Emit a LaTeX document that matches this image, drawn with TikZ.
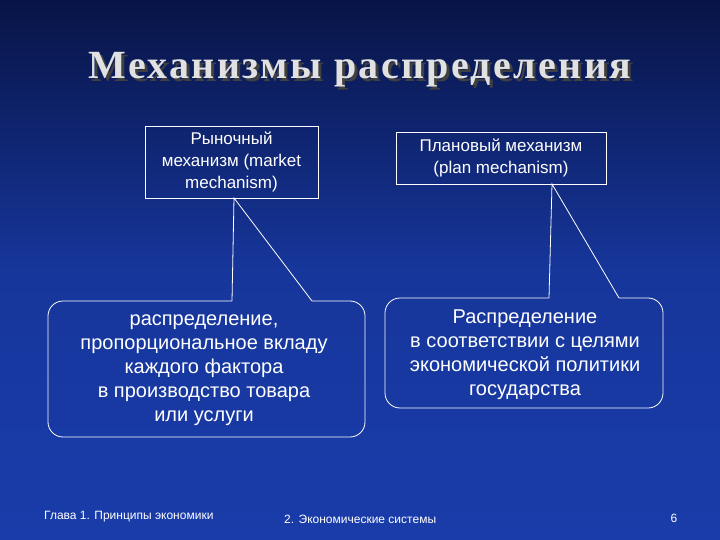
\documentclass[tikz,border=0pt]{standalone}
\usepackage{fontspec}
\setmainfont{Liberation Sans}
\newfontfamily\titlefont[LetterSpace=6]{Liberation Serif}
\definecolor{bgtop}{RGB}{8,20,70}
\definecolor{bgbot}{RGB}{25,60,170}
\definecolor{titlec}{RGB}{225,225,225}
\begin{document}
\begin{tikzpicture}[x=1pt,y=-1pt,
  topbox/.style={text=white,align=center,font=\fontsize{17}{22}\selectfont},
  callout/.style={draw=white,line width=0.8pt,rounded corners=15pt},
  calltext/.style={text=white,align=center,font=\fontsize{20}{24}\selectfont},
  foot/.style={text=white,font=\fontsize{12}{14}\selectfont}]
\shade[top color=bgtop,bottom color=bgbot,middle color=bgbot!85!bgtop] (0,0) rectangle (720,540);
\useasboundingbox (0,0) rectangle (720,540);
\node[text=black!75,font=\titlefont\bfseries\fontsize{40}{44}\selectfont] at (363,73) {Механизмы распределения};
\node[text=titlec,font=\titlefont\bfseries\fontsize{40}{44}\selectfont] (title) at (360,70) {Механизмы распределения};
% top boxes
\draw[draw=white,line width=0.8pt] (145,126) rectangle (318,198);
\node[topbox] (mkt) at (231.5,162) {Рыночный\\механизм (market\\mechanism)};
\draw[draw=white,line width=0.8pt] (396,132) rectangle (606,184);
\node[topbox] (plan) at (501,158) {Плановый механизм\\(plan mechanism)};
% callouts
\coordinate (ltip) at (234,198);
\coordinate (rtip) at (552,184);
\draw[callout] (232,301) -- (48,301) -- (48,437) -- (365,437) -- (365,301) -- (312,301);
\draw[draw=white,line width=0.8pt] (232,301) -- (ltip) -- (312,301);
\draw[callout] (549,298) -- (385,298) -- (385,408) -- (663,408) -- (663,298) -- (619,298);
\draw[draw=white,line width=0.8pt] (549,298) -- (rtip) -- (619,298);
\node[calltext] (lt) at (204,370) {распределение,\\пропорциональное вкладу\\каждого фактора\\в производство товара\\или услуги};
\node[calltext] (rt) at (525,355) {Распределение\\в соответствии с целями\\экономической политики\\государства};
% footer
\node[foot,anchor=west,inner sep=0pt] (f1) at (44,517) {Глава 1. Принципы экономики};
\node[foot,anchor=west,inner sep=0pt] (f2) at (284,519) {2. Экономические системы};
\node[foot] (f3) at (674,518) {6};
\end{tikzpicture}
\end{document}
